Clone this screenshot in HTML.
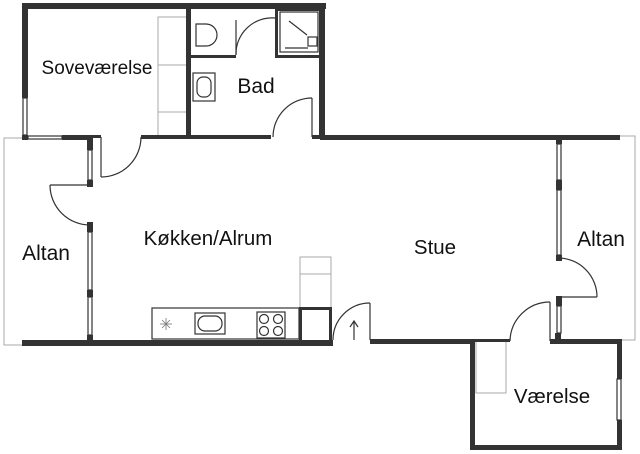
<!DOCTYPE html>
<html><head><style>
html,body{margin:0;padding:0;background:#fff;}
svg{display:block}
text{font-family:"Liberation Sans",sans-serif;fill:#111}
</style></head><body>
<svg width="640" height="454" viewBox="0 0 640 454" xmlns="http://www.w3.org/2000/svg">
<g fill="none" stroke="#aaa" stroke-width="1">
  <polyline points="24,138 4,138 4,345 24,345"/>
  <polyline points="620,136 635,136 635,340 620,340"/>
  <rect x="158" y="17" width="30" height="120"/>
  <line x1="158" y1="65" x2="188" y2="65"/>
  <line x1="158" y1="112" x2="188" y2="112"/>
  <rect x="300" y="257" width="31" height="51"/>
  <line x1="300" y1="274" x2="331" y2="274"/>
  <polyline points="476,341 476,393 506,393 506,341"/>
</g>
<g fill="#333" stroke="none">
  <rect x="22" y="3" width="304" height="6"/>
  <rect x="22" y="3" width="6" height="95"/>
  <rect x="319" y="3" width="6" height="136"/>
  <rect x="186" y="3" width="5" height="136"/>
  <rect x="62" y="135" width="30" height="5"/>
  <rect x="22" y="135" width="6" height="5"/>
  <rect x="87" y="135" width="6" height="15"/>
  <rect x="87" y="180" width="6" height="7"/>
  <rect x="92" y="135" width="9" height="3"/>
  <rect x="141" y="135" width="130" height="4"/>
  <rect x="312" y="135" width="8" height="4"/>
  <rect x="320" y="135" width="300" height="5"/>
  <rect x="190" y="55" width="46" height="3"/>
  <rect x="275" y="8" width="47" height="3"/>
  <rect x="275" y="8" width="3" height="50"/>
  <rect x="275" y="55" width="46" height="3"/>
  <rect x="87" y="222" width="6" height="10"/>
  <rect x="87" y="290" width="6" height="7"/>
  <rect x="87" y="335" width="6" height="10"/>
  <rect x="22" y="340" width="311" height="6"/>
  <rect x="370" y="339" width="103" height="5"/>
  <rect x="470" y="339" width="5" height="111"/>
  <rect x="470" y="445" width="152" height="5"/>
  <rect x="617" y="339" width="5" height="40"/>
  <rect x="617" y="420" width="5" height="30"/>
  <rect x="470" y="339" width="40" height="3"/>
  <rect x="550" y="339" width="72" height="5"/>
  <rect x="556" y="136" width="6" height="8"/>
  <rect x="556" y="180" width="6" height="10"/>
  <rect x="556" y="255" width="6" height="6"/>
  <rect x="556" y="296" width="6" height="10"/>
  <rect x="555" y="333" width="6" height="10"/>
  <rect x="299" y="307" width="33" height="3"/>
  <rect x="299" y="307" width="3" height="34"/>
  <rect x="329" y="307" width="3" height="34"/>
</g>
<g fill="none" stroke="#333" stroke-width="1.2">
  <rect x="23" y="98" width="4" height="37"/>
  <rect x="28" y="136" width="34" height="3"/>
  <rect x="88" y="150" width="4" height="30"/>
  <rect x="88" y="232" width="4" height="58"/>
  <rect x="88" y="297" width="4" height="38"/>
  <rect x="557" y="144" width="4" height="36"/>
  <rect x="557" y="190" width="4" height="65"/>
  <rect x="557" y="306" width="4" height="27"/>
  <rect x="617" y="379" width="4" height="41"/>
  <line x1="101" y1="137" x2="101" y2="177"/>
  <path d="M101,177 A40,40 0 0 0 141,137"/>
  <line x1="50" y1="185" x2="90" y2="185"/>
  <path d="M50,185 A40,40 0 0 0 90,225"/>
  <line x1="236" y1="20" x2="236" y2="55"/>
  <path d="M236,55 A36,36 0 0 1 275,18"/>
  <line x1="312" y1="98" x2="312" y2="137"/>
  <path d="M273,137 A39,39 0 0 1 312,98"/>
  <line x1="370" y1="303" x2="370" y2="340"/>
  <path d="M333,340 A37,37 0 0 1 370,303"/>
  <line x1="550" y1="302" x2="550" y2="341"/>
  <path d="M510,341 A40,40 0 0 1 550,302"/>
  <path d="M558,258 A39,39 0 0 1 597,297"/>
  <line x1="558" y1="297" x2="597" y2="297"/>
  <path d="M196,24 L206,24 A11,11 0 0 1 206,46 L196,46 Z"/>
  <rect x="193" y="73" width="22" height="28"/>
  <rect x="197" y="77" width="14" height="20" rx="6"/>
  <rect x="280" y="12" width="38" height="40"/>
  <rect x="308" y="37" width="9" height="9"/>
  <line x1="289" y1="21" x2="307" y2="35"/>
  <line x1="285" y1="48" x2="308" y2="48"/>
  <rect x="152" y="308" width="147" height="31"/>
  <rect x="195" y="313" width="30" height="21"/>
  <rect x="198" y="316" width="24" height="15" rx="7"/>
  <rect x="257" y="312" width="28" height="26"/>
  <circle cx="264" cy="319" r="4.5"/><circle cx="278" cy="319" r="4.5"/>
  <circle cx="264" cy="331" r="4.5"/><circle cx="278" cy="331" r="4.5"/>
  <line x1="354" y1="340" x2="354" y2="322"/>
  <polyline points="350,327 354,321 358,327"/>
</g>
<g stroke="#777" stroke-width="0.8">
  <line x1="160" y1="324" x2="172" y2="324"/><line x1="166" y1="318" x2="166" y2="330"/>
  <line x1="162" y1="320" x2="170" y2="328"/><line x1="170" y1="320" x2="162" y2="328"/>
</g>
<text x="97" y="74" font-size="19" text-anchor="middle">Soveværelse</text>
<text x="256" y="93" font-size="21" text-anchor="middle">Bad</text>
<text x="208" y="245" font-size="20.5" text-anchor="middle">Køkken/Alrum</text>
<text x="435" y="254" font-size="20.5" text-anchor="middle">Stue</text>
<text x="46" y="260" font-size="21" text-anchor="middle">Altan</text>
<text x="601" y="246" font-size="21" text-anchor="middle">Altan</text>
<text x="552" y="403" font-size="20.5" text-anchor="middle">Værelse</text>
</svg>
</body></html>
